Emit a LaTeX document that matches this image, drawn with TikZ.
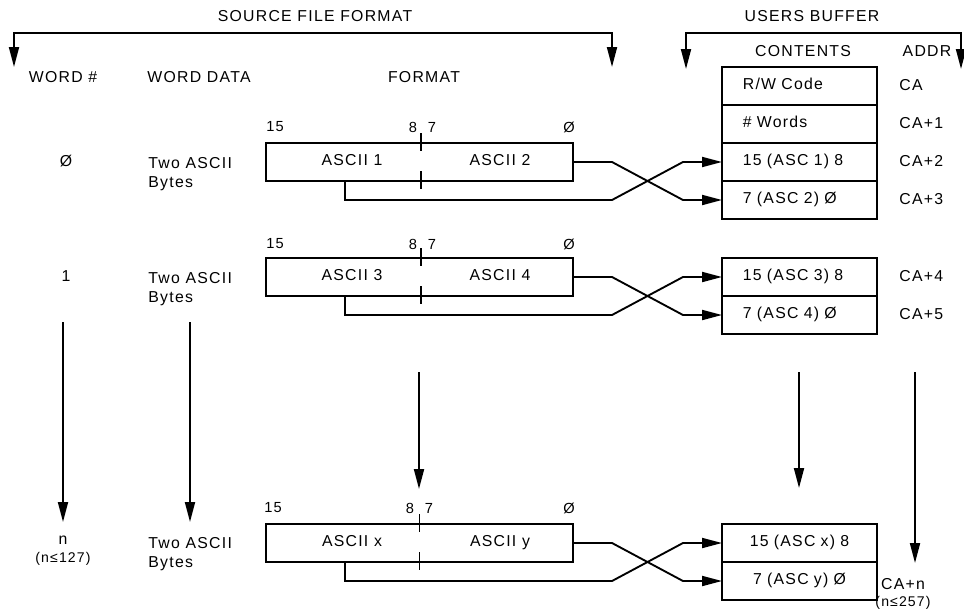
\documentclass[tikz,border=0pt]{standalone}
\usepackage{fontspec}
\setmainfont[LetterSpace=8]{Liberation Sans}
\usetikzlibrary{arrows.meta,positioning,calc}

\begin{document}
\begin{tikzpicture}[x=0.3mm, y=-0.3mm,
  %% ── Text styles ─────────────────────────────────────────────────────────
  lbl/.style={font=\fontsize{13.5}{16}\selectfont, inner sep=1pt,
              text height=0.75em, text depth=0.22em},
  bit/.style={font=\fontsize{12.5}{14}\selectfont, inner sep=1pt},
  note/.style={font=\fontsize{12}{14}\selectfont, inner sep=1pt},
  %% ── Boxes: fmt = 16 bit word, cell = one buffer word ────────────────────
  fmt/.style={draw, line width=1.6pt, outer sep=0pt,
              minimum width=92.1mm, minimum height=11.4mm},
  cell/.style={draw, line width=1.6pt, outer sep=0pt, inner xsep=6mm,
               minimum width=46.5mm, minimum height=11.4mm,
               text width=34mm, align=left,
               text height=0.75em, text depth=0.22em,
               font=\fontsize{13.5}{16}\selectfont},
  %% ── Lines ───────────────────────────────────────────────────────────────
  wire/.style={line width=1.6pt},
  arr/.style={line width=1.6pt, -{Triangle[length=6mm, width=3mm]}},
  brk/.style={line width=1.6pt,
              {Triangle[length=6mm, width=3mm]}-{Triangle[length=6mm, width=3mm]}}
]
\useasboundingbox (0,0) rectangle (964,613);

%% ── Titles and brackets ─────────────────────────────────────────────────────
\node[lbl] (srcttl) at (315,18) {SOURCE FILE FORMAT};
\node[lbl] (bufttl) at (812,18) {USERS BUFFER};
\coordinate (srcL) at (14,67);
\coordinate (srcR) at (612,67);
\coordinate (bufL) at (686,69);
\coordinate (bufR) at (961,69);
\draw[brk] (srcL) -- ($(srcL|-0,33)$) -- ($(srcR|-0,33)$) -- (srcR);
\draw[brk] (bufL) -- ($(bufL|-0,33)$) -- ($(bufR|-0,33)$) -- (bufR);

%% ── Column headers ─────────────────────────────────────────────────────────
\node[lbl] (hwnum)  at (63,79)  {WORD \#};
\node[lbl] (hwdata) at (199,79) {WORD DATA};
\node[lbl] (hfmt)   at (424,79) {FORMAT};
\node[lbl] (hcont)  at (803,53) {CONTENTS};
\node[lbl] (haddr)  at (927,53) {ADDR};

%% ── Users buffer: header words and word 0 ───────────────────────────────────
\node[cell] (rw) at (799.5,86) {R/W Code};
\node[cell, below=0pt of rw] (nw) {\# Words};
\node[cell, below=0pt of nw] (a1) {15 (ASC 1) 8};
\node[cell, below=0pt of a1] (a2) {7 (ASC 2) Ø};
\node[lbl, anchor=west] (ca0) at (898,87)  {CA};
\node[lbl, anchor=west] (ca1) at (898,125) {CA+1};
\node[lbl, anchor=west] (ca2) at (898,163) {CA+2};
\node[lbl, anchor=west] (ca3) at (898,201) {CA+3};

%% ── ROW 1  word 0 ──────────────────────────────────────────────────────────
\node[lbl] (w0) at (66,163) {Ø};
\node[lbl, anchor=west, align=left] (d0) at (147,184) {Two ASCII\\Bytes};
\node[fmt] (fmt1) at (419.5,162) {};
\node[lbl] at (352,162) {ASCII 1};
\node[lbl] at (500,162) {ASCII 2};
\node[bit] at (275,127) {15};
\node[bit] at (413,127) {8};
\node[bit] at (432,127) {7};
\node[bit] at (569,127) {Ø};
\draw[wire] ($(fmt1.north)+(1.5,-10)$) -- ($(fmt1.north)+(1.5,8)$);
\draw[wire] ($(fmt1.south)+(1.5,-10)$) -- ($(fmt1.south)+(1.5,8)$);
\draw[arr] (fmt1.east) -- ++(39,0) -- ($(a2.west)+(-39,0)$) -- (a2.west);
\draw[arr] ($(fmt1.south west)+(79,0)$) |- ($(a2.west)+(-110,0)$)
           -- ($(a1.west)+(-39,0)$) -- (a1.west);

%% ── ROW 2  word 1 ──────────────────────────────────────────────────────────
\node[lbl] (w1) at (66,278) {1};
\node[lbl, anchor=west, align=left] (d1) at (147,299) {Two ASCII\\Bytes};
\node[fmt] (fmt2) at (419.5,277) {};
\node[lbl] at (352,277) {ASCII 3};
\node[lbl] at (500,277) {ASCII 4};
\node[bit] at (275,244) {15};
\node[bit] at (413,244) {8};
\node[bit] at (432,244) {7};
\node[bit] at (569,244) {Ø};
\draw[wire] ($(fmt2.north)+(1.5,-10)$) -- ($(fmt2.north)+(1.5,8)$);
\draw[wire] ($(fmt2.south)+(1.5,-10)$) -- ($(fmt2.south)+(1.5,8)$);
\node[cell] (a3) at (799.5,277) {15 (ASC 3) 8};
\node[cell, below=0pt of a3] (a4) {7 (ASC 4) Ø};
\node[lbl, anchor=west] (ca4) at (898,278) {CA+4};
\node[lbl, anchor=west] (ca5) at (898,316) {CA+5};
\draw[arr] (fmt2.east) -- ++(39,0) -- ($(a4.west)+(-39,0)$) -- (a4.west);
\draw[arr] ($(fmt2.south west)+(79,0)$) |- ($(a4.west)+(-110,0)$)
           -- ($(a3.west)+(-39,0)$) -- (a3.west);

%% ── Continuation arrows ─────────────────────────────────────────────────────
\coordinate (wnT) at (63,322);   \coordinate (wnB) at (63,522);
\coordinate (wdT) at (190,322);  \coordinate (wdB) at (190,522);
\coordinate (fmT) at (419,372);  \coordinate (fmB) at (419,489);
\coordinate (ctT) at (799,372);  \coordinate (ctB) at (799,488);
\coordinate (adT) at (915,372);  \coordinate (adB) at (915,563);
\draw[arr] (wnT) -- (wnB);
\draw[arr] (wdT) -- (wdB);
\draw[arr] (fmT) -- (fmB);
\draw[arr] (ctT) -- (ctB);
\draw[arr] (adT) -- (adB);

%% ── ROW 3  word n ──────────────────────────────────────────────────────────
\node[lbl] (wn) at (63,541) {n};
\node[note] (wnmax) at (63,559) {(n≤127)};
\node[lbl, anchor=west, align=left] (dn) at (147,564) {Two ASCII\\Bytes};
\node[fmt] (fmt3) at (419.5,543) {};
\node[lbl] at (352,543) {ASCII x};
\node[lbl] at (500,543) {ASCII y};
\node[bit] at (273,508) {15};
\node[bit] at (410,508) {8};
\node[bit] at (429,508) {7};
\node[bit] at (569,508) {Ø};
\draw[wire] ($(fmt3.north)+(0,-10)$) -- ($(fmt3.north)+(0,8)$);
\draw[wire] ($(fmt3.south)+(0,-10)$) -- ($(fmt3.south)+(0,8)$);
\node[cell, align=center] (ax) at (799.5,543) {15 (ASC x) 8};
\node[cell, align=center, below=0pt of ax] (ay) {7 (ASC y) Ø};
\node[lbl] (can) at (903,586) {CA+n};
\node[note] (canmax) at (903,603) {(n≤257)};
\draw[arr] (fmt3.east) -- ++(39,0) -- ($(ay.west)+(-39,0)$) -- (ay.west);
\draw[arr] ($(fmt3.south west)+(79,0)$) |- ($(ay.west)+(-110,0)$)
           -- ($(ax.west)+(-39,0)$) -- (ax.west);

\end{tikzpicture}
\end{document}
